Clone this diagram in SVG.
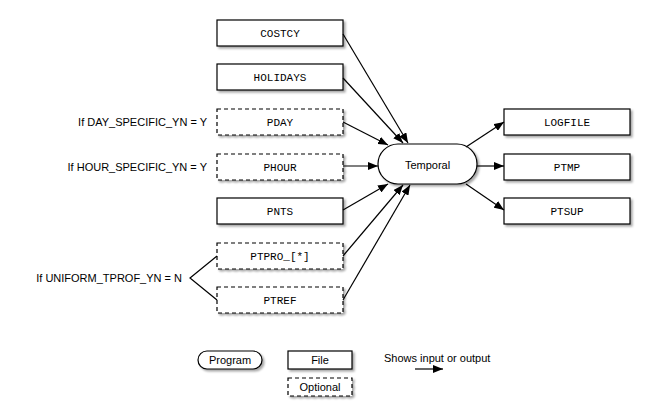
<svg xmlns="http://www.w3.org/2000/svg" width="666" height="414" viewBox="0 0 666 414">
<defs>
<marker id="ah" markerWidth="10" markerHeight="8" refX="10" refY="4" orient="auto" markerUnits="userSpaceOnUse"><path d="M0,0 L10,4 L0,8 z" fill="#000"/></marker>
<filter id="sh" x="-10%" y="-10%" width="130%" height="150%"><feDropShadow dx="2" dy="2" stdDeviation="1" flood-color="#000" flood-opacity="0.35"/></filter>
</defs>
<style>
.b{fill:#fff;stroke:#000;stroke-width:1.2;filter:url(#sh)}
.d{stroke-dasharray:4,3}
.m{font-family:"Liberation Mono",monospace;font-size:11px;text-anchor:middle}
.s{font-family:"Liberation Sans",Arial,sans-serif;font-size:11px}
.c line,.c path{stroke:#000;stroke-width:1.2;fill:none}
</style>
<rect width="666" height="414" fill="#fff"/>
<g id="COSTCY"><rect class="b" x="217" y="20" width="126" height="26"/><text class="m" x="280" y="37">COSTCY</text></g>
<g id="HOLIDAYS"><rect class="b" x="217" y="64" width="126" height="26"/><text class="m" x="280" y="81">HOLIDAYS</text></g>
<g id="PDAY"><rect class="b d" x="217" y="109" width="126" height="26"/><text class="m" x="280" y="126">PDAY</text><text class="s" x="207" y="126" text-anchor="end">If DAY_SPECIFIC_YN = Y</text></g>
<g id="PHOUR"><rect class="b d" x="217" y="154" width="126" height="26"/><text class="m" x="280" y="171">PHOUR</text><text class="s" x="207" y="171" text-anchor="end">If HOUR_SPECIFIC_YN = Y</text></g>
<g id="PNTS"><rect class="b" x="217" y="198" width="126" height="26"/><text class="m" x="280" y="215">PNTS</text></g>
<g id="PTPRO"><rect class="b d" x="217" y="243" width="126" height="26"/><text class="m" x="280" y="260">PTPRO_[*]</text></g>
<g id="PTREF"><rect class="b d" x="217" y="287" width="126" height="26"/><text class="m" x="280" y="304">PTREF</text></g>
<g id="uniform"><text class="s" x="182" y="282" text-anchor="end">If UNIFORM_TPROF_YN = N</text></g>
<g id="Temporal"><rect class="b" x="378" y="144" width="99" height="40" rx="20"/><text class="s" x="427.5" y="169" text-anchor="middle" font-size="13">Temporal</text></g>
<g id="LOGFILE"><rect class="b" x="504" y="109" width="126" height="26"/><text class="m" x="567" y="126">LOGFILE</text></g>
<g id="PTMP"><rect class="b" x="504" y="154" width="126" height="26"/><text class="m" x="567" y="171">PTMP</text></g>
<g id="PTSUP"><rect class="b" x="504" y="198" width="126" height="26"/><text class="m" x="567" y="215">PTSUP</text></g>
<g id="legend">
<rect class="b" x="198" y="351" width="64" height="18" rx="9"/><text class="s" x="230" y="364" text-anchor="middle" font-size="9">Program</text>
<rect class="b" x="288" y="351" width="64" height="18"/><text class="s" x="320" y="364" text-anchor="middle" font-size="9">File</text>
<rect class="b d" x="288" y="378" width="64" height="18"/><text class="s" x="320" y="391" text-anchor="middle" font-size="9">Optional</text>
<text class="s" x="384" y="362" font-size="8">Shows input or output</text>
</g>
<g class="c">
<line x1="343" y1="34" x2="408" y2="143" marker-end="url(#ah)"/>
<line x1="343" y1="78" x2="403" y2="143" marker-end="url(#ah)"/>
<line x1="343" y1="122" x2="388" y2="145" marker-end="url(#ah)"/>
<line x1="343" y1="166" x2="378" y2="166" marker-end="url(#ah)"/>
<line x1="343" y1="210" x2="388" y2="184" marker-end="url(#ah)"/>
<line x1="343" y1="256" x2="403" y2="185" marker-end="url(#ah)"/>
<line x1="343" y1="300" x2="410" y2="185" marker-end="url(#ah)"/>
<line x1="466" y1="147" x2="504" y2="122" marker-end="url(#ah)"/>
<line x1="477" y1="166" x2="504" y2="166" marker-end="url(#ah)"/>
<line x1="466" y1="184" x2="504" y2="210" marker-end="url(#ah)"/>
<path d="M217,256 L190,278 L217,300"/>
<line x1="415" y1="369" x2="443" y2="369" marker-end="url(#ah)"/>
</g>
</svg>
